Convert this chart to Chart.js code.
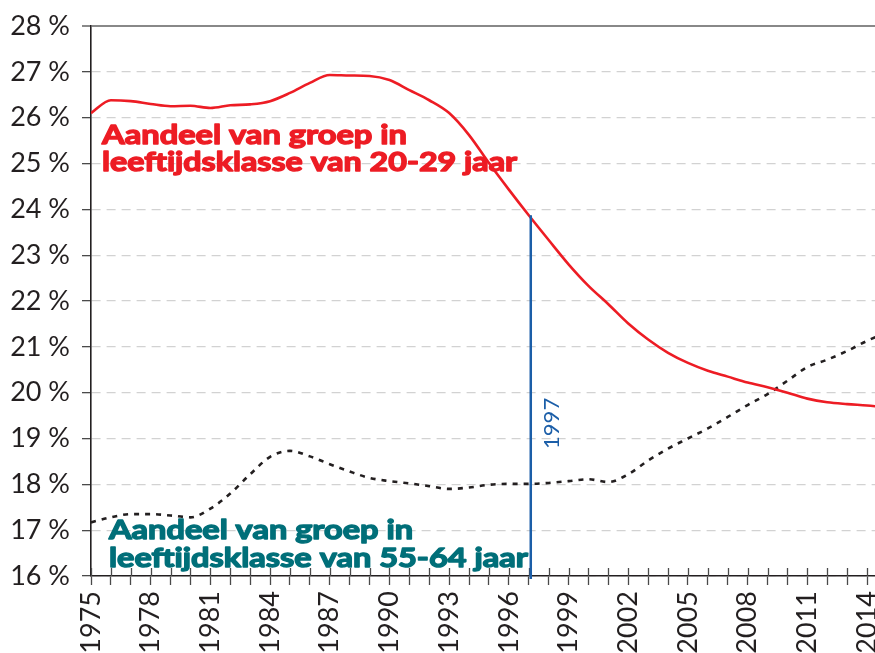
<!DOCTYPE html>
<html><head><meta charset="utf-8">
<script src="https://cdn.jsdelivr.net/npm/chart.js@4/dist/chart.umd.min.js"></script>
<style>html,body{margin:0;padding:0;background:#fff}#wrap{width:875px;height:653px}</style>
</head><body><div id="wrap"><canvas id="c" width="875" height="653"></canvas></div>
<script>
const years = [1975,1976,1977,1978,1979,1980,1981,1982,1983,1984,1985,1986,1987,1988,1989,1990,1991,1992,1993,1994,1995,1996,1997,1998,1999,2000,2001,2002,2003,2004,2005,2006,2007,2008,2009,2010,2011,2012,2013,2014,2015];
const share20to29 = [26.10,26.38,26.36,26.30,26.25,26.26,26.21,26.27,26.29,26.36,26.54,26.76,26.93,26.92,26.91,26.82,26.60,26.38,26.10,25.62,25.01,24.43,23.87,23.33,22.80,22.33,21.93,21.51,21.16,20.87,20.65,20.48,20.35,20.22,20.12,20.00,19.87,19.79,19.75,19.72,19.68];
const share55to64 = [17.17,17.28,17.35,17.35,17.32,17.28,17.47,17.80,18.22,18.60,18.73,18.61,18.44,18.28,18.14,18.07,18.02,17.96,17.90,17.93,17.99,18.01,18.01,18.03,18.07,18.11,18.05,18.22,18.52,18.78,19.00,19.22,19.47,19.73,19.97,20.26,20.56,20.72,20.91,21.13,21.32];
const yTickValues = [16,17,18,19,20,21,22,23,24,25,26,27,28];
const xTickYears = [1975,1976,1977,1978,1979,1980,1981,1982,1983,1984,1985,1986,1987,1988,1989,1990,1991,1992,1993,1994,1995,1996,1997,1998,1999,2000,2001,2002,2003,2004,2005,2006,2007,2008,2009,2010,2011,2012,2013,2014];
const xLabelYears = [1975,1978,1981,1984,1987,1990,1993,1996,1999,2002,2005,2008,2011,2014];
const markerYear = 1997;
const markerText = '1997';
const label20to29 = ['Aandeel van groep in', 'leeftijdsklasse van 20-29 jaar'];
const label55to64 = ['Aandeel van groep in', 'leeftijdsklasse van 55-64 jaar'];

const RED = '#ed1c24', TEAL = '#006f79', BLUE = '#1b5ea8', DARK = '#231f20';

function toPoints(vals){ return years.map((y,i)=>({x:y, y:vals[i]})); }

function fitText(ctx, text, x, baseline, targetW, font, color){
  ctx.font = font; ctx.fillStyle = color; ctx.strokeStyle = color; ctx.lineWidth = 1.4; ctx.lineJoin = 'round';
  ctx.textAlign='left'; ctx.textBaseline='alphabetic';
  const w = ctx.measureText(text).width;
  ctx.save(); ctx.translate(x, baseline); ctx.scale(targetW / w, 1);
  ctx.fillText(text, 0, 0); ctx.strokeText(text, 0, 0); ctx.restore();
}

const overlay = {
  id: 'overlay',
  afterDatasetsDraw(chart){
    const ctx = chart.ctx, xs = chart.scales.x, ys = chart.scales.y, ca = chart.chartArea;
    ctx.save();
    ctx.strokeStyle = '#4a4a4a'; ctx.lineWidth = 1.3;
    xTickYears.forEach(yr => {
      const px = Math.round(xs.getPixelForValue(yr)) + 0.5;
      ctx.beginPath(); ctx.moveTo(px, ca.bottom - 8); ctx.lineTo(px, ca.bottom); ctx.stroke();
    });
    const meta = chart.getDatasetMeta(0);
    const pt = meta.data[years.indexOf(markerYear)];
    ctx.strokeStyle = BLUE; ctx.lineWidth = 2.5;
    ctx.beginPath(); ctx.moveTo(pt.x + 2, pt.y); ctx.lineTo(pt.x + 2, ca.bottom + 3); ctx.stroke();
    ctx.save();
    ctx.translate(pt.x + 23, ys.getPixelForValue(19.33));
    ctx.rotate(-Math.PI/2);
    ctx.font = '22px Lato'; ctx.fillStyle = BLUE; ctx.textAlign='center'; ctx.textBaseline='middle';
    ctx.fillText(markerText, 0, 0);
    ctx.restore();
    const f = 'bold 27px Lato';
    fitText(ctx, label20to29[0], ca.left + 11, ca.top + 118, 305, f, RED);
    fitText(ctx, label20to29[1], ca.left + 11, ca.top + 144.5, 415, f, RED);
    fitText(ctx, label55to64[0], ca.left + 18, ca.bottom - 37, 304, f, TEAL);
    fitText(ctx, label55to64[1], ca.left + 18, ca.bottom - 9.5, 419, f, TEAL);
    ctx.restore();
  }
};

new Chart(document.getElementById('c'), {
  type: 'line',
  data: {
    datasets: [
      { label: '20-29', data: toPoints(share20to29), borderColor: RED, borderWidth: 2.6,
        pointRadius: 0, cubicInterpolationMode: 'monotone', fill: false },
      { label: '55-64', data: toPoints(share55to64), borderColor: DARK, borderWidth: 2.6,
        borderDash: [5,6], pointRadius: 0, cubicInterpolationMode: 'monotone', fill: false }
    ]
  },
  options: {
    responsive: false, animation: false, devicePixelRatio: 1,
    layout: { padding: { top: 26, right: 0, left: 0, bottom: 0 } },
    plugins: { legend: { display: false }, tooltip: { enabled: false } },
    scales: {
      x: {
        type: 'linear', min: 1975, max: 2014.4,
        afterBuildTicks: s => { s.ticks = xTickYears.map(v => ({ value: v })); },
        afterFit: s => { s.height = 77; s.paddingLeft = 0; s.paddingRight = 0; },
        ticks: { autoSkip: false, minRotation: 90, maxRotation: 90, padding: 6,
          color: DARK, font: { family: 'Lato', size: 27 },
          callback: v => xLabelYears.includes(v) ? String(v) : '' },
        grid: { drawOnChartArea: false, drawTicks: true, tickLength: 9, tickColor: '#4a4a4a', tickWidth: 1.3 },
        border: { color: DARK, width: 1.6 }
      },
      y: {
        min: 16, max: 28,
        afterBuildTicks: s => { s.ticks = yTickValues.map(v => ({ value: v })); },
        afterFit: s => { s.width = 91; s.paddingTop = 0; s.paddingBottom = 0; },
        ticks: { padding: 12, color: DARK, font: { family: 'Lato', size: 27 },
          callback: v => v + ' %' },
        grid: {
          color: c => (c.tick && c.tick.value === 28) ? '#888888' : '#d2d2d2',
          lineWidth: c => (c.tick && c.tick.value === 28) ? 2 : 1.3,
          tickLength: 9, tickColor: '#4a4a4a', tickWidth: 1.3
        },
        border: { color: DARK, width: 1.6, dash: c => (c.tick && c.tick.value === 28) ? [] : [9,6] }
      }
    }
  },
  plugins: [overlay]
});
</script>
</body></html>
